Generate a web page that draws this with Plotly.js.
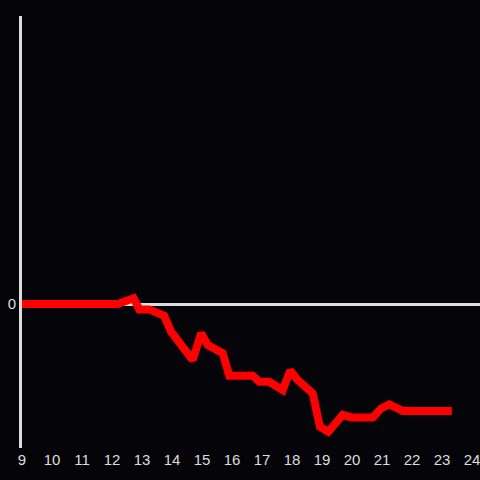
<!DOCTYPE html>
<html>
<head>
<script src="https://cdn.plot.ly/plotly-3.0.1.min.js"></script>
<style>html,body{margin:0;padding:0;background:#050408;}#chart{width:480px;height:480px;}</style>
</head>
<body>
<div id="chart"></div>
<script>
const hours = [9, 12.19, 12.72, 12.91, 13.24, 13.74, 13.97, 14.69, 14.97, 15.19, 15.69, 15.91, 16.69, 16.91, 17.24, 17.69, 17.94, 18.19, 18.69, 18.93, 19.21, 19.69, 19.97, 20.69, 20.97, 21.24, 21.69, 23.33];
const values = [0, 0, 0.16, -0.15, -0.15, -0.33, -0.77, -1.56, -0.81, -1.14, -1.37, -1.99, -1.99, -2.16, -2.16, -2.39, -1.85, -2.11, -2.48, -3.41, -3.55, -3.08, -3.15, -3.15, -2.9, -2.79, -2.97, -2.97];
const xTicks = [9, 10, 11, 12, 13, 14, 15, 16, 17, 18, 19, 20, 21, 22, 23, 24];

Plotly.newPlot('chart', [{
  x: hours, y: values, type: 'scatter', mode: 'lines',
  line: {color: '#ff0000', width: 8},
  hoverinfo: 'none'
}], {
  width: 480, height: 480,
  paper_bgcolor: '#050408', plot_bgcolor: '#050408',
  margin: {l: 22, r: 0, t: 16, b: 32},
  showlegend: false,
  font: {family: 'Liberation Sans, Arial, sans-serif', size: 15, color: '#dddddd'},
  xaxis: {range: [9, 24.267], tickvals: xTicks, ticktext: xTicks.map(String), showgrid: false, zeroline: false, showline: false, ticks: '', ticklabeloverflow: 'allow', ticklabelstandoff: 1, fixedrange: true},
  yaxis: {range: [-4, 8], tickvals: [0], ticktext: ['0'], showgrid: false, zeroline: true, zerolinecolor: '#dddddd', zerolinewidth: 3, showline: true, linecolor: '#dddddd', linewidth: 3, ticks: '', fixedrange: true}
}, {staticPlot: true});
</script>
</body>
</html>
